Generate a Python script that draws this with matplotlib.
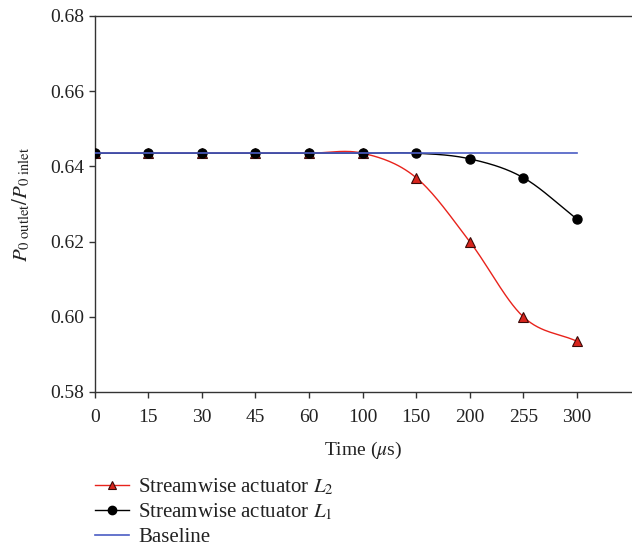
import numpy as np
import matplotlib.pyplot as plt
from matplotlib.lines import Line2D

plt.rcParams['font.family'] = 'Liberation Serif'
plt.rcParams['mathtext.fontset'] = 'stix'

time_labels = ['0', '15', '30', '45', '60', '100', '150', '200', '255', '300']
baseline = [0.6435] * 10
actuator_l1 = [0.6435, 0.6435, 0.6435, 0.6435, 0.6435, 0.6435, 0.6435, 0.642, 0.637, 0.626]
actuator_l2 = [0.6435, 0.6435, 0.6435, 0.6435, 0.6435, 0.6435, 0.637, 0.620, 0.600, 0.5935]


def smooth(y, n=30):
    # Catmull-Rom curve through the points, for the smoothed line style
    y = np.asarray(y, dtype=float)
    x = np.arange(len(y), dtype=float)
    yp = np.concatenate([[2 * y[0] - y[1]], y, [2 * y[-1] - y[-2]]])
    xs, ys = [], []
    for i in range(len(y) - 1):
        p0, p1, p2, p3 = yp[i], yp[i + 1], yp[i + 2], yp[i + 3]
        t = np.linspace(0, 1, n, endpoint=False)
        ys.append(0.5 * (2 * p1 + (-p0 + p2) * t + (2 * p0 - 5 * p1 + 4 * p2 - p3) * t ** 2
                         + (-p0 + 3 * p1 - 3 * p2 + p3) * t ** 3))
        xs.append(x[i] + t)
    xs.append([x[-1]])
    ys.append([y[-1]])
    return np.concatenate(xs), np.concatenate(ys)


fig = plt.figure(figsize=(6.32, 5.47), dpi=100)
ax = fig.add_axes([0.150, 0.2834, 0.85, 0.6874])
x = np.arange(len(time_labels))

sx, sy = smooth(actuator_l2)
ax.plot(sx, sy, color='#e8231c', lw=1.0, zorder=2)
ax.plot(x, actuator_l2, ls='none', marker='^', ms=7, mfc='#d8251d', mec='#3a0a08', mew=0.8, zorder=3)

sx, sy = smooth(actuator_l1)
ax.plot(sx, sy, color='black', lw=1.0, zorder=4)
ax.plot(x, actuator_l1, ls='none', marker='o', ms=6.5, color='black', zorder=5)

ax.plot(x, baseline, color='#4a5cc4', lw=1.2, zorder=6)

ax.set_xlim(0, 10.03)
ax.set_ylim(0.58, 0.68)
ax.set_xticks(x)
ax.set_xticklabels(time_labels)
ax.set_yticks([0.58, 0.60, 0.62, 0.64, 0.66, 0.68])
ax.set_yticklabels(['0.58', '0.60', '0.62', '0.64', '0.66', '0.68'])
ax.spines['right'].set_visible(False)
for s in ax.spines.values():
    s.set_color('#333333')
    s.set_linewidth(1.0)
ax.tick_params(direction='out', length=4, width=1.0, colors='#333333', labelcolor='#222222', labelsize=14)
ax.tick_params(axis='x', pad=8)

ax.set_xlabel(r'Time ($\mu$s)', fontsize=14, color='#222222', labelpad=10)
ax.set_ylabel(r'$P_{0\ \mathrm{outlet}}/P_{0\ \mathrm{inlet}}$', fontsize=15, color='#222222', labelpad=13)

handles = [
    Line2D([], [], color='#e8231c', lw=1.0, marker='^', ms=6, mfc='#d8251d', mec='#3a0a08', mew=0.8),
    Line2D([], [], color='black', lw=1.0, marker='o', ms=6),
    Line2D([], [], color='#4a5cc4', lw=1.2),
]
labels = [r'Streamwise actuator $L_2$', r'Streamwise actuator $L_1$', 'Baseline']
fig.legend(handles, labels, loc='upper left', bbox_to_anchor=(0.150, 0.129), frameon=False,
           fontsize=15, handlelength=1.65, handletextpad=0.43, labelspacing=0.23, borderpad=0,
           borderaxespad=0, labelcolor='#222222')

fig.savefig('out.png', dpi=100)
